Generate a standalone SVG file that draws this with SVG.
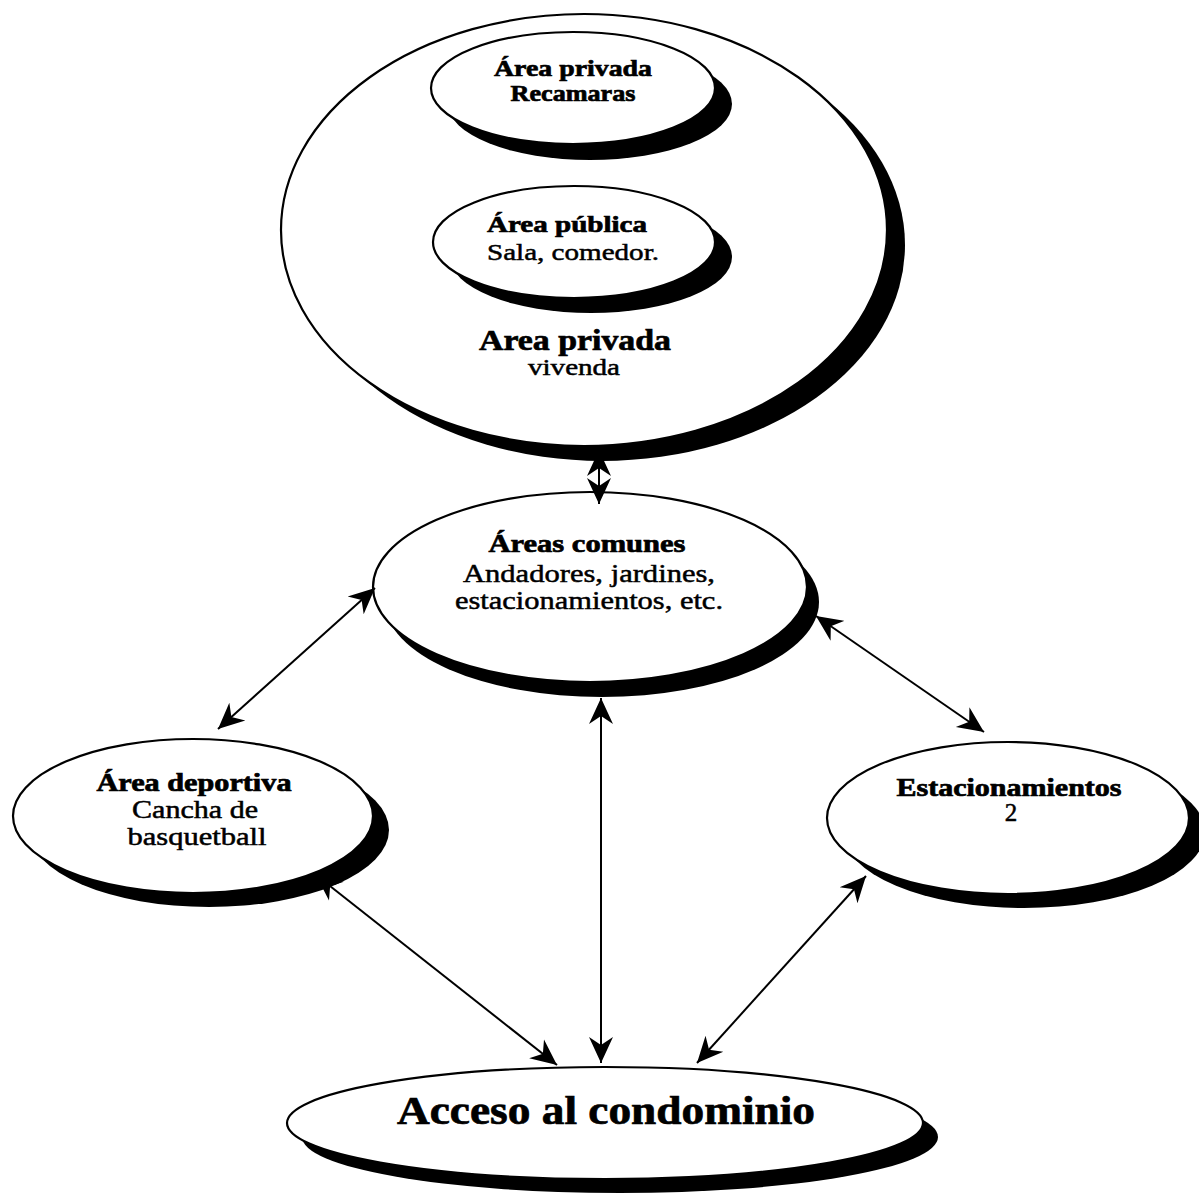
<svg xmlns="http://www.w3.org/2000/svg" width="1199" height="1204" viewBox="0 0 1199 1204">
<style>
.sh{fill:#000;stroke:none}
.el{fill:#fff;stroke:#000;stroke-width:2.2}
.t{font-family:"Liberation Serif","Times New Roman",serif;fill:#000;text-anchor:middle;stroke:#000;stroke-width:0.5}
.b{font-weight:bold;stroke-width:0.7}
.c{stroke:#000;stroke-width:2;fill:none;marker-start:url(#ah);marker-end:url(#ah)}
</style>
<defs>
<marker id="ah" markerUnits="userSpaceOnUse" viewBox="0 0 26 26" refX="26" refY="13" markerWidth="26" markerHeight="26" orient="auto-start-reverse">
<path d="M26,13 L0,1 L8,13 L0,25 Z" fill="#000"/>
</marker>
</defs>
<rect width="1199" height="1204" fill="#fff"/>

<g id="vivienda">
<ellipse class="sh" cx="602" cy="245" rx="303" ry="216"/>
<ellipse class="el" cx="584" cy="230" rx="303" ry="216"/>
<text class="t b" x="575" y="350" font-size="30" textLength="192" lengthAdjust="spacingAndGlyphs">Area privada</text>
<text class="t" x="574" y="375" font-size="23" textLength="92" lengthAdjust="spacingAndGlyphs">vivenda</text>
</g>

<g id="recamaras">
<ellipse class="sh" cx="590" cy="104" rx="142" ry="56"/>
<ellipse class="el" cx="573" cy="88" rx="142" ry="56"/>
<text class="t b" x="573" y="76" font-size="24" textLength="158" lengthAdjust="spacingAndGlyphs">Área privada</text>
<text class="t b" x="573" y="101" font-size="24" textLength="125" lengthAdjust="spacingAndGlyphs">Recamaras</text>
</g>

<g id="publica">
<ellipse class="sh" cx="591" cy="257" rx="141" ry="56"/>
<ellipse class="el" cx="574" cy="242" rx="141" ry="56"/>
<text class="t b" x="567" y="232" font-size="24" textLength="160" lengthAdjust="spacingAndGlyphs">Área pública</text>
<text class="t" x="573" y="260" font-size="24" textLength="172" lengthAdjust="spacingAndGlyphs">Sala, comedor.</text>
</g>

<g id="comunes">
<ellipse class="sh" cx="602" cy="602" rx="217" ry="95"/>
<ellipse class="el" cx="590" cy="587" rx="217" ry="95"/>
<text class="t b" x="587" y="552" font-size="26" textLength="197" lengthAdjust="spacingAndGlyphs">Áreas comunes</text>
<text class="t" x="589" y="582" font-size="26" textLength="252" lengthAdjust="spacingAndGlyphs">Andadores, jardines,</text>
<text class="t" x="589" y="609" font-size="26" textLength="268" lengthAdjust="spacingAndGlyphs">estacionamientos, etc.</text>
</g>

<g id="deportiva">
<ellipse class="sh" cx="209" cy="830" rx="180" ry="77"/>
<ellipse class="el" cx="193" cy="816" rx="180" ry="77"/>
<text class="t b" x="194" y="791" font-size="25" textLength="195" lengthAdjust="spacingAndGlyphs">Área deportiva</text>
<text class="t" x="195" y="818" font-size="25" textLength="126" lengthAdjust="spacingAndGlyphs">Cancha de</text>
<text class="t" x="197" y="845" font-size="25" textLength="139" lengthAdjust="spacingAndGlyphs">basquetball</text>
</g>

<g id="estacionamientos">
<ellipse class="sh" cx="1024" cy="832" rx="181" ry="76"/>
<ellipse class="el" cx="1008" cy="818" rx="181" ry="76"/>
<text class="t b" x="1009" y="796" font-size="25" textLength="225" lengthAdjust="spacingAndGlyphs">Estacionamientos</text>
<text class="t" x="1011" y="821" font-size="25">2</text>
</g>

<g id="acceso">
<ellipse class="sh" cx="620" cy="1137" rx="318" ry="56"/>
<ellipse class="el" cx="605" cy="1123" rx="318" ry="56"/>
<text class="t b" x="606" y="1124" font-size="40" textLength="418" lengthAdjust="spacingAndGlyphs">Acceso al condominio</text>
</g>

<g id="connectors">
<line class="c" x1="599" y1="450" x2="599" y2="504"/>
<line class="c" x1="375" y1="588" x2="218" y2="729"/>
<line class="c" x1="816" y1="616" x2="984" y2="732"/>
<line class="c" x1="601" y1="698" x2="601" y2="1063"/>
<line class="c" x1="316" y1="875" x2="557" y2="1065"/>
<line class="c" x1="866" y1="876" x2="697" y2="1063"/>
</g>
</svg>
